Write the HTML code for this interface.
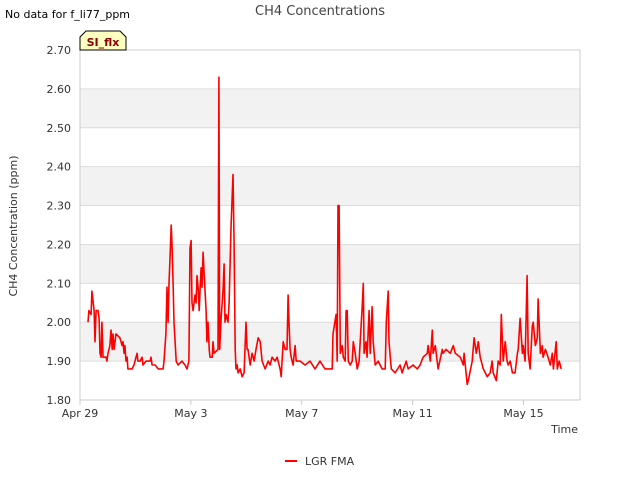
<!DOCTYPE html>
<html><head><meta charset="utf-8"><style>
body{margin:0;background:#fff;}
svg text{font-family:"DejaVu Sans","Liberation Sans",sans-serif;}
</style></head><body>
<svg id="chart" width="640" height="480">
<rect width="640" height="480" fill="#fff"/>
<text x="320" y="15" text-anchor="middle" font-size="13" fill="#444">CH4 Concentrations</text>
<text x="5" y="18" font-size="11" fill="#000">No data for f_li77_ppm</text>
<g id="bands"></g>
<g id="grid"></g>
<rect x="80" y="50" width="500" height="350" fill="none" stroke="#ccc"/>
<g id="yticks"></g>
<g id="xticks"></g>
<path id="series" fill="none" stroke="#ff0000" stroke-width="1.6" stroke-linejoin="round"/>
<g>
<path d="M80,50 L80,37 L86,31 L120,31 L126,37 L126,50 Z" fill="#ffffc0" stroke="#000" stroke-width="1"/>
<text x="103" y="46" text-anchor="middle" font-size="11" font-weight="bold" fill="#8b0000">SI_flx</text>
</g>
<text transform="translate(17,226) rotate(-90)" text-anchor="middle" font-size="11" fill="#333">CH4 Concentration (ppm)</text>
<text x="578" y="433" text-anchor="end" font-size="11" fill="#333">Time</text>
<g>
<line x1="285" y1="461" x2="297" y2="461" stroke="#ff0000" stroke-width="2"/>
<text x="305" y="465" font-size="11" fill="#333">LGR FMA</text>
</g>
</svg>
<script>
const yTicks=[1.80,1.90,2.00,2.10,2.20,2.30,2.40,2.50,2.60,2.70];
const xTickDays=[0,4,8,12,16];
const xTickLabels=["Apr 29","May 3","May 7","May 11","May 15"];
const days=[0.29,0.32,0.40,0.43,0.51,0.54,0.58,0.65,0.69,0.72,0.76,0.79,0.83,0.94,0.97,1.01,1.08,1.12,1.16,1.19,1.23,1.30,1.44,1.52,1.55,1.59,1.62,1.66,1.70,1.73,1.88,1.95,2.02,2.06,2.09,2.17,2.24,2.27,2.38,2.53,2.56,2.60,2.71,2.82,3.00,3.03,3.10,3.14,3.18,3.21,3.25,3.29,3.32,3.36,3.39,3.47,3.54,3.68,3.79,3.86,3.93,3.97,4.01,4.04,4.08,4.15,4.19,4.22,4.26,4.30,4.33,4.37,4.40,4.44,4.48,4.55,4.58,4.62,4.66,4.69,4.77,4.80,4.84,4.98,5.01,5.04,5.09,5.13,5.16,5.20,5.23,5.27,5.34,5.38,5.45,5.52,5.56,5.60,5.63,5.67,5.70,5.78,5.85,5.92,5.99,6.03,6.06,6.14,6.21,6.28,6.35,6.43,6.50,6.57,6.68,6.79,6.86,6.93,7.04,7.11,7.22,7.26,7.33,7.40,7.47,7.51,7.54,7.58,7.62,7.69,7.76,7.80,7.94,8.12,8.30,8.48,8.66,8.84,9.10,9.13,9.24,9.28,9.31,9.35,9.39,9.46,9.50,9.57,9.60,9.64,9.68,9.75,9.82,9.86,9.93,10.00,10.07,10.18,10.22,10.25,10.32,10.36,10.43,10.47,10.54,10.58,10.65,10.76,10.90,11.01,11.05,11.12,11.15,11.23,11.37,11.55,11.62,11.77,11.84,12.02,12.17,12.27,12.38,12.53,12.56,12.64,12.71,12.74,12.82,12.92,13.07,13.10,13.21,13.36,13.47,13.54,13.72,13.83,13.86,13.97,14.01,14.15,14.22,14.30,14.37,14.44,14.55,14.69,14.80,14.87,14.91,15.02,15.09,15.16,15.20,15.27,15.34,15.41,15.45,15.52,15.60,15.70,15.78,15.81,15.88,15.96,15.99,16.06,16.13,16.17,16.24,16.32,16.35,16.43,16.50,16.53,16.61,16.68,16.71,16.79,16.89,16.97,17.04,17.08,17.18,17.22,17.29,17.36];
const ch4=[2.00,2.03,2.02,2.08,2.03,1.95,2.03,2.03,2.01,1.92,1.91,2.00,1.91,1.91,1.90,1.92,1.94,1.98,1.93,1.97,1.93,1.97,1.96,1.94,1.95,1.92,1.94,1.90,1.91,1.88,1.88,1.89,1.91,1.92,1.90,1.90,1.91,1.89,1.90,1.90,1.91,1.89,1.89,1.88,1.88,1.90,1.97,2.09,2.00,2.10,2.17,2.25,2.20,2.10,2.00,1.90,1.89,1.90,1.89,1.88,1.90,2.19,2.21,2.05,2.03,2.07,2.05,2.12,2.09,2.03,2.08,2.14,2.09,2.18,2.12,2.03,1.95,2.00,1.93,1.91,1.91,1.95,1.92,1.93,2.63,1.93,2.01,2.05,2.08,2.15,2.00,2.02,2.00,2.05,2.25,2.38,2.20,1.93,1.88,1.89,1.87,1.88,1.86,1.87,2.00,1.93,1.93,1.89,1.92,1.90,1.93,1.96,1.95,1.90,1.88,1.90,1.89,1.91,1.90,1.91,1.88,1.86,1.95,1.93,1.93,2.07,2.00,1.93,1.91,1.89,1.94,1.90,1.90,1.89,1.90,1.88,1.90,1.88,1.88,1.97,2.02,1.90,2.30,2.30,1.92,1.94,1.91,1.90,2.03,2.03,1.90,1.89,1.90,1.95,1.92,1.88,1.90,2.04,2.10,1.92,1.95,1.91,2.03,1.92,2.04,1.95,1.89,1.90,1.88,1.88,2.00,2.08,1.95,1.88,1.87,1.89,1.87,1.90,1.88,1.89,1.88,1.89,1.91,1.92,1.94,1.90,1.98,1.92,1.94,1.88,1.93,1.92,1.93,1.92,1.94,1.92,1.91,1.89,1.92,1.84,1.85,1.90,1.96,1.92,1.95,1.91,1.88,1.86,1.87,1.90,1.87,1.85,1.90,1.89,2.02,1.90,1.95,1.90,1.89,1.90,1.87,1.87,1.92,1.93,2.01,1.92,1.94,1.90,2.12,1.92,1.88,1.99,2.00,1.94,1.96,2.06,1.92,1.94,1.91,1.93,1.91,1.89,1.92,1.88,1.95,1.88,1.90,1.88];
const NS="http://www.w3.org/2000/svg";
const X0=80,X1=580,Y0=400,Y1=50,DMAX=18.04,VMIN=1.80,VMAX=2.70;
function xs(d){return X0+d*(X1-X0)/DMAX;}
function ys(v){return Y0-(v-VMIN)*(Y0-Y1)/(VMAX-VMIN);}
const bands=document.getElementById('bands'),grid=document.getElementById('grid'),yt=document.getElementById('yticks'),xt=document.getElementById('xticks');
for(let i=0;i<yTicks.length;i++){
  const v=yTicks[i];
  if(i%2==1&&i<yTicks.length-1){
    const r=document.createElementNS(NS,'rect');
    r.setAttribute('x',X0);r.setAttribute('width',X1-X0);
    r.setAttribute('y',ys(yTicks[i+1]));r.setAttribute('height',ys(v)-ys(yTicks[i+1]));
    r.setAttribute('fill','#f2f2f2');
    
    
    bands.appendChild(r);
  }
  const l=document.createElementNS(NS,'line');
  l.setAttribute('x1',X0);l.setAttribute('x2',X1);l.setAttribute('y1',ys(v));l.setAttribute('y2',ys(v));
  l.setAttribute('stroke','#dddddd');
  
  
  grid.appendChild(l);
  const t=document.createElementNS(NS,'text');
  t.setAttribute('x',71);t.setAttribute('y',ys(v)+4);t.setAttribute('text-anchor','end');
  t.setAttribute('font-size','11');t.setAttribute('fill','#333');
  t.textContent=v.toFixed(2);
  
  
  yt.appendChild(t);
}
for(let i=0;i<xTickDays.length;i++){
  const x=xs(xTickDays[i]);
  const l=document.createElementNS(NS,'line');
  l.setAttribute('x1',x);l.setAttribute('x2',x);l.setAttribute('y1',Y0);l.setAttribute('y2',Y0+5);
  l.setAttribute('stroke','#ccc');
  
  
  xt.appendChild(l);
  const t=document.createElementNS(NS,'text');
  t.setAttribute('x',x);t.setAttribute('y',Y0+17);t.setAttribute('text-anchor','middle');
  t.setAttribute('font-size','11');t.setAttribute('fill','#333');
  t.textContent=xTickLabels[i];
  
  
  xt.appendChild(t);
}
let d='';
for(let i=0;i<days.length;i++){d+=(i?'L':'M')+xs(days[i]).toFixed(1)+','+ys(ch4[i]).toFixed(1);}
document.getElementById('series').setAttribute('d',d);
</script>
</body></html>
